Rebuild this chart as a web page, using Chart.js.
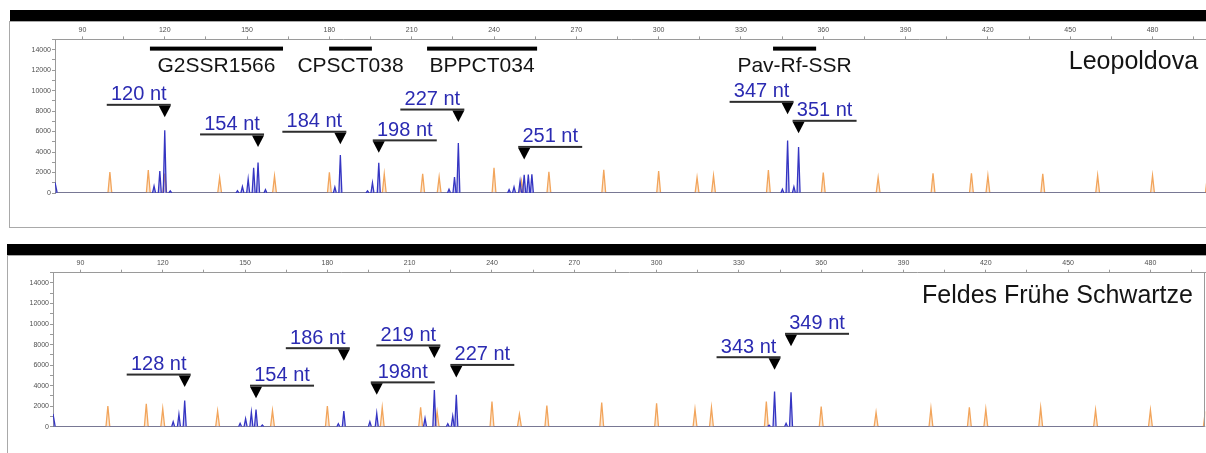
<!DOCTYPE html>
<html>
<head>
<meta charset="utf-8">
<script src="https://cdn.jsdelivr.net/npm/chart.js@4/dist/chart.umd.min.js"></script>
<style>
  html, body { margin: 0; padding: 0; background: #fff; width: 1206px; height: 453px; overflow: hidden; }
  .band { position: absolute; background: #000; }
  .frame { position: absolute; border: 1px solid #a9a9a9; box-sizing: border-box; }
  canvas { position: absolute; left: 0; }
</style>
</head>
<body>
<div class="band" style="left:10px;top:10px;width:1210px;height:11px"></div>
<div class="frame" style="left:9px;top:21px;width:1220px;height:207px"></div>
<div class="band" style="left:7px;top:244px;width:1210px;height:11px"></div>
<div class="frame" style="left:7px;top:255px;width:1220px;height:230px"></div>
<canvas id="leo" width="1208" height="185" style="top:22px"></canvas>
<canvas id="ffs" width="1206" height="190" style="top:256px"></canvas>

<script>
// Axis ticks: fragment size (nt) and signal (RFU)
const sizeTicks = [90, 105, 120, 135, 150, 165, 180, 195, 210, 225, 240, 255, 270, 285, 300, 315,
                   330, 345, 360, 375, 390, 405, 420, 435, 450, 465, 480, 495];
const signalTicks = [0, 1000, 2000, 3000, 4000, 5000, 6000, 7000, 8000, 9000, 10000,
                     11000, 12000, 13000, 14000, 15000];

// SSR loci and their size ranges (nt)
const lociNames = ['G2SSR1566', 'CPSCT038', 'BPPCT034', 'Pav-Rf-SSR'];
const lociFrom  = [114.6, 179.9, 215.6, 341.7];
const lociTo    = [163.1, 195.5, 255.7, 357.4];

// Leopoldova: sample peaks (blue dye)
const leoBlueSizes   = [116.1, 118.2, 120, 122, 146.5, 148.3, 150.4, 152.4, 154, 156.7, 182, 184,
                        193.9, 195.7, 198, 223.6, 225.6, 227, 245.5, 247.3, 249.5, 251, 252.5, 253.8,
                        345.1, 347, 349.3, 351];
const leoBlueHeights = [680, 2140, 6130, 200, 230, 620, 1360, 2460, 2980, 330, 580, 3700,
                        200, 1000, 2950, 360, 1560, 4890, 330, 600, 1150, 1780, 1800, 1820,
                        360, 5120, 610, 4500];
const leoStartSignal = 1040;
// Leopoldova: size standard peaks (orange dye)
const leoLadderSizes   = [100, 114, 120, 140, 160, 180, 200, 214, 220, 240, 250, 260, 280,
                          300, 314, 320, 340, 360, 380, 400, 414, 420, 440, 460, 480, 500];
const leoLadderHeights = [2040, 2240, 1900, 1490, 1650, 2010, 1850, 1880, 1560, 2460, 1200, 2070, 2270,
                          2140, 1520, 1690, 2240, 2000, 1510, 1920, 1920, 1690, 1880, 1720, 1720, 1700];
// Leopoldova: called alleles
const leoAlleles      = [120, 154, 184, 198, 227, 251, 347, 351];
const leoAlleleLabels = ['120 nt', '154 nt', '184 nt', '198 nt', '227 nt', '251 nt', '347 nt', '351 nt'];

// Feldes Frühe Schwartze: sample peaks (blue dye)
const ffsBlueSizes   = [123.8, 125.9, 128, 148.2, 150.2, 152.3, 154, 156.3, 184, 186, 195.5, 198,
                        215.6, 219, 223.9, 225.7, 227, 341, 343, 347.2, 349];
const ffsBlueHeights = [490, 1210, 2550, 330, 780, 1400, 1660, 160, 290, 1530, 490, 1300,
                        820, 3560, 290, 1040, 3100, 150, 3430, 330, 3360];
const ffsStartSignal = 1240;
// Feldes Frühe Schwartze: size standard peaks (orange dye)
const ffsLadderSizes   = [100, 114, 120, 140, 160, 180, 200, 214, 220, 240, 250, 260, 280,
                          300, 314, 320, 340, 360, 380, 400, 414, 420, 440, 460, 480, 500];
const ffsLadderHeights = [2020, 2220, 1760, 1530, 1570, 2020, 1860, 1890, 1470, 2450, 1210, 2060, 2350,
                          2290, 1700, 1860, 2450, 1960, 1400, 1800, 1890, 1700, 1860, 1630, 1630, 1500];
// Feldes Frühe Schwartze: called alleles
const ffsAlleles      = [128, 154, 186, 198, 219, 227, 343, 349];
const ffsAlleleLabels = ['128 nt', '154 nt', '186 nt', '198nt', '219 nt', '227 nt', '343 nt', '349 nt'];

// Label placement (signal level of each marker tip, and which way its rule runs)
const leoMarkerLevels = [7390, 4500, 4760, 3920, 6930, 3280, 7680, 5830];
const leoMarkerSides  = ['left', 'left', 'left', 'right', 'left', 'right', 'left', 'right'];
const ffsMarkerLevels = [3860, 2780, 6430, 3100, 6700, 4800, 5550, 7830];
const ffsMarkerSides  = ['left', 'right', 'left', 'right', 'left', 'right', 'left', 'right'];

const FONT = '"Liberation Sans", Arial, Helvetica, sans-serif';
const SIZE_MIN = 80, SIZE_MAX = 500;

// Turn peak lists into a trace of narrow spikes on a zero baseline
function buildTrace(sizes, heights, halfWidth, startSignal) {
  const pts = [];
  if (startSignal) {
    pts.push({ x: SIZE_MIN, y: startSignal }, { x: SIZE_MIN + 0.8, y: 0 });
  } else {
    pts.push({ x: SIZE_MIN, y: 0 });
  }
  sizes.forEach((s, i) => {
    pts.push({ x: s - halfWidth, y: 0 }, { x: s, y: heights[i] }, { x: s + halfWidth, y: 0 });
  });
  pts.push({ x: SIZE_MAX + 1, y: 0 });
  return pts;
}

const baselineColor = ctx =>
  (ctx.p0.parsed.y === 0 && ctx.p1.parsed.y === 0) ? '#6f6f8e' : undefined;

// Locus bars, allele markers and sample name
const markupPlugin = {
  id: 'markup',
  afterDatasetsDraw(chart, args, o) {
    const { ctx, chartArea } = chart;
    const x = chart.scales.x, y = chart.scales.y;
    ctx.save();

    if (o.rightEdge) {
      ctx.strokeStyle = '#9a9a9a';
      ctx.lineWidth = 1;
      ctx.beginPath();
      ctx.moveTo(Math.round(chartArea.right) - 0.5, chartArea.top);
      ctx.lineTo(Math.round(chartArea.right) - 0.5, chartArea.bottom);
      ctx.stroke();
    }

    (o.lociNames || []).forEach((name, i) => {
      const x0 = x.getPixelForValue(o.lociFrom[i]);
      const x1 = x.getPixelForValue(o.lociTo[i]);
      const yb = y.getPixelForValue(o.locusBarLevel);
      ctx.fillStyle = '#000';
      ctx.fillRect(x0, yb - 2, x1 - x0, 4);
      ctx.font = '21px ' + FONT;
      ctx.textAlign = 'center';
      ctx.textBaseline = 'alphabetic';
      ctx.fillStyle = '#141414';
      ctx.fillText(name, (x0 + x1) / 2, y.getPixelForValue(o.locusTextLevel));
    });

    o.alleles.forEach((a, i) => {
      const px = x.getPixelForValue(a);
      const tip = y.getPixelForValue(o.levels[i]);
      const ruleY = tip - 12.5;
      const x0 = o.sides[i] === 'left' ? px + 6 - 64 : px - 6;
      const x1 = x0 + 64;
      // rule
      ctx.fillStyle = '#2e2e2e';
      ctx.fillRect(x0, ruleY - 1, x1 - x0, 2);
      // marker
      ctx.fillStyle = '#000';
      ctx.beginPath();
      ctx.moveTo(px - 6, tip - 11.5);
      ctx.lineTo(px + 6, tip - 11.5);
      ctx.lineTo(px, tip);
      ctx.closePath();
      ctx.fill();
      // size label
      ctx.font = '20px ' + FONT;
      ctx.textAlign = 'center';
      ctx.textBaseline = 'alphabetic';
      ctx.fillStyle = '#2b2bb2';
      ctx.fillText(o.labels[i], (x0 + x1) / 2, tip - 17);
    });

    ctx.font = '25px ' + FONT;
    ctx.textAlign = 'right';
    ctx.textBaseline = 'alphabetic';
    ctx.fillStyle = '#141414';
    ctx.fillText(o.sample, x.getPixelForValue(o.sampleAt), y.getPixelForValue(o.sampleLevel));
    ctx.restore();
  }
};

function makeChart(id, cfg) {
  const axisColor = '#9a9a9a';
  return new Chart(document.getElementById(id), {
    type: 'line',
    data: {
      datasets: [
        {
          data: buildTrace(cfg.blueSizes, cfg.blueHeights, 0.55, cfg.startSignal),
          borderColor: '#3535c2',
          backgroundColor: 'rgba(80,80,205,0.35)',
          borderWidth: 1.3,
          fill: 'origin',
          pointRadius: 0,
          tension: 0,
          order: 0,
          segment: { borderColor: baselineColor }
        },
        {
          data: buildTrace(cfg.ladderSizes, cfg.ladderHeights, 0.7, 0),
          borderColor: '#f2a55c',
          backgroundColor: 'rgba(246,185,125,0.35)',
          borderWidth: 1.3,
          fill: 'origin',
          pointRadius: 0,
          tension: 0,
          order: 1,
          segment: { borderColor: baselineColor }
        }
      ]
    },
    options: {
      responsive: false,
      animation: false,
      layout: { padding: { left: 0, top: 0, right: cfg.padRight, bottom: cfg.padBottom } },
      scales: {
        x: {
          type: 'linear',
          position: 'top',
          min: SIZE_MIN,
          max: SIZE_MAX,
          afterBuildTicks: s => { s.ticks = sizeTicks.map(v => ({ value: v })); },
          afterFit: s => { s.height = cfg.xAxisHeight; },
          ticks: {
            autoSkip: false,
            maxRotation: 0,
            padding: 2,
            color: '#505050',
            font: { family: FONT, size: 7 },
            callback: v => (v % 30 === 0 ? String(v) : '')
          },
          grid: { drawOnChartArea: false, drawTicks: true, tickLength: 3, color: axisColor },
          border: { display: true, color: axisColor, width: 1 }
        },
        y: {
          type: 'linear',
          position: 'left',
          min: 0,
          max: 15000,
          afterBuildTicks: s => { s.ticks = signalTicks.map(v => ({ value: v })); },
          afterFit: s => { s.width = cfg.yAxisWidth; },
          ticks: {
            autoSkip: false,
            padding: 1,
            color: '#505050',
            font: { family: FONT, size: 7 },
            callback: v => (v % 2000 === 0 && v < 15000 ? String(v) : '')
          },
          grid: { drawOnChartArea: false, drawTicks: true, tickLength: 3, color: axisColor },
          border: { display: true, color: axisColor, width: 1 }
        }
      },
      plugins: {
        legend: { display: false },
        tooltip: { enabled: false },
        markup: cfg.markup
      }
    },
    plugins: [markupPlugin]
  });
}

makeChart('leo', {
  blueSizes: leoBlueSizes, blueHeights: leoBlueHeights, startSignal: leoStartSignal,
  ladderSizes: leoLadderSizes, ladderHeights: leoLadderHeights,
  xAxisHeight: 17.4, yAxisWidth: 55, padRight: 0.6, padBottom: 14,
  markup: {
    lociNames, lociFrom, lociTo,
    locusBarLevel: 14100, locusTextLevel: 11800,
    alleles: leoAlleles, labels: leoAlleleLabels,
    levels: leoMarkerLevels, sides: leoMarkerSides,
    sample: 'Leopoldova', sampleAt: 496.6, sampleLevel: 12120,
    rightEdge: false
  }
});

makeChart('ffs', {
  blueSizes: ffsBlueSizes, blueHeights: ffsBlueHeights, startSignal: ffsStartSignal,
  ladderSizes: ffsLadderSizes, ladderHeights: ffsLadderHeights,
  xAxisHeight: 16.7, yAxisWidth: 53, padRight: 0.7, padBottom: 19.3,
  markup: {
    alleles: ffsAlleles, labels: ffsAlleleLabels,
    levels: ffsMarkerLevels, sides: ffsMarkerSides,
    sample: 'Feldes Frühe Schwartze', sampleAt: 495.5, sampleLevel: 12080,
    rightEdge: true
  }
});
</script>
</body>
</html>
